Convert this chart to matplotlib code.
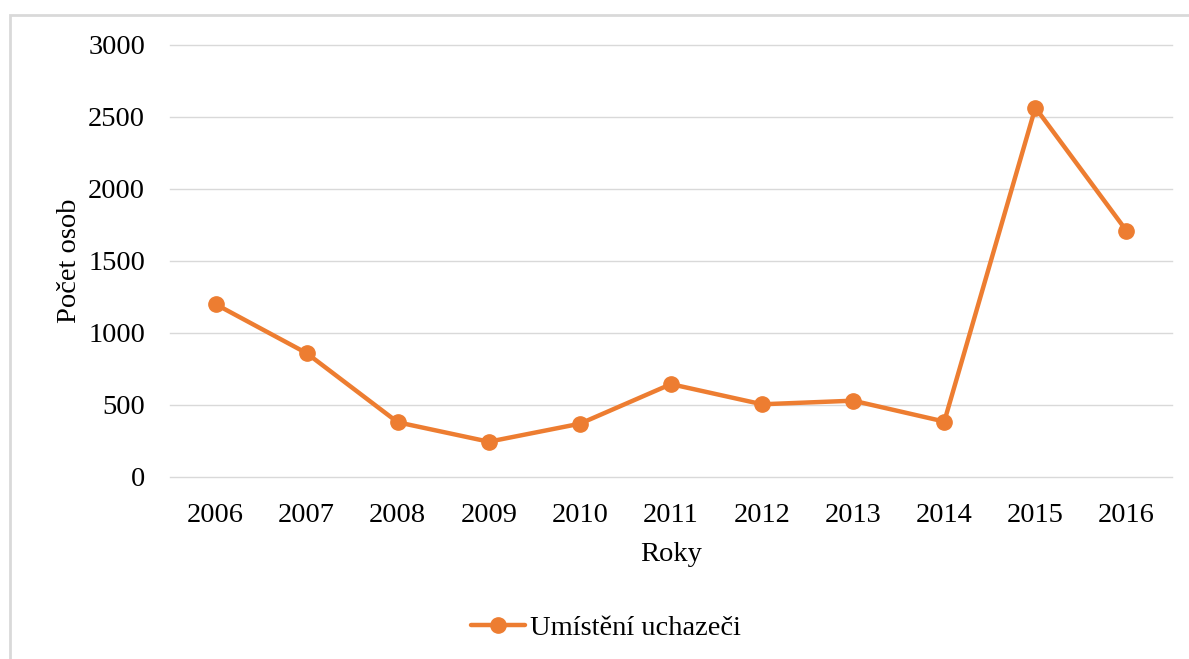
import matplotlib
matplotlib.use("Agg")
import matplotlib.pyplot as plt
from matplotlib.patches import Rectangle

years = ["2006", "2007", "2008", "2009", "2010", "2011", "2012", "2013", "2014", "2015", "2016"]
values = [1200, 860, 380, 245, 370, 645, 505, 530, 385, 2565, 1710]
series_name = "Umístění uchazeči"
y_ticks = [0, 500, 1000, 1500, 2000, 2500, 3000]

W, H = 1189, 659
fig = plt.figure(figsize=(W / 100, H / 100), dpi=100)
plt.rcParams['font.family'] = ['Liberation Serif', 'DejaVu Serif']

# outer chart border (clipped by figure edges on right/bottom)
fig.patches.append(Rectangle((10 / W, -0.1), 1.2, 1 - 15 / H + 0.1, transform=fig.transFigure,
                             fill=False, edgecolor="#D9D9D9", linewidth=2))

ax = fig.add_axes([170 / W, 1 - 477 / H, (1172 - 170) / W, (477 - 45) / H])
x = list(range(len(years)))
ax.plot(x, values, color="#ED7D31", linewidth=3.2, marker="o", markersize=11,
        label=series_name, solid_capstyle="round", zorder=3)
ax.set_xlim(-0.5, len(years) - 0.5)
ax.set_ylim(0, 3000)
ax.set_yticks(y_ticks)
ax.set_xticks(x)
ax.set_xticklabels(years)
ax.grid(axis="y", color="#D9D9D9", linewidth=1)
for gl in ax.get_ygridlines():
    gl.set_clip_on(False)
ax.set_axisbelow(True)
for s in ax.spines.values():
    s.set_visible(False)
ax.tick_params(length=0, labelsize=20.5, colors="black")
ax.tick_params(axis="y", pad=18)
ax.tick_params(axis="x", pad=19)
ax.set_xlabel("Roky", fontsize=20.5, labelpad=10)
ax.set_ylabel("Počet osob", fontsize=20.5, labelpad=4)

fig.legend(loc="center", bbox_to_anchor=(606 / W, 1 - 628 / H), frameon=False,
           fontsize=20.5, handlelength=1.9, handletextpad=0.2)

fig.savefig("out.png", dpi=100)
